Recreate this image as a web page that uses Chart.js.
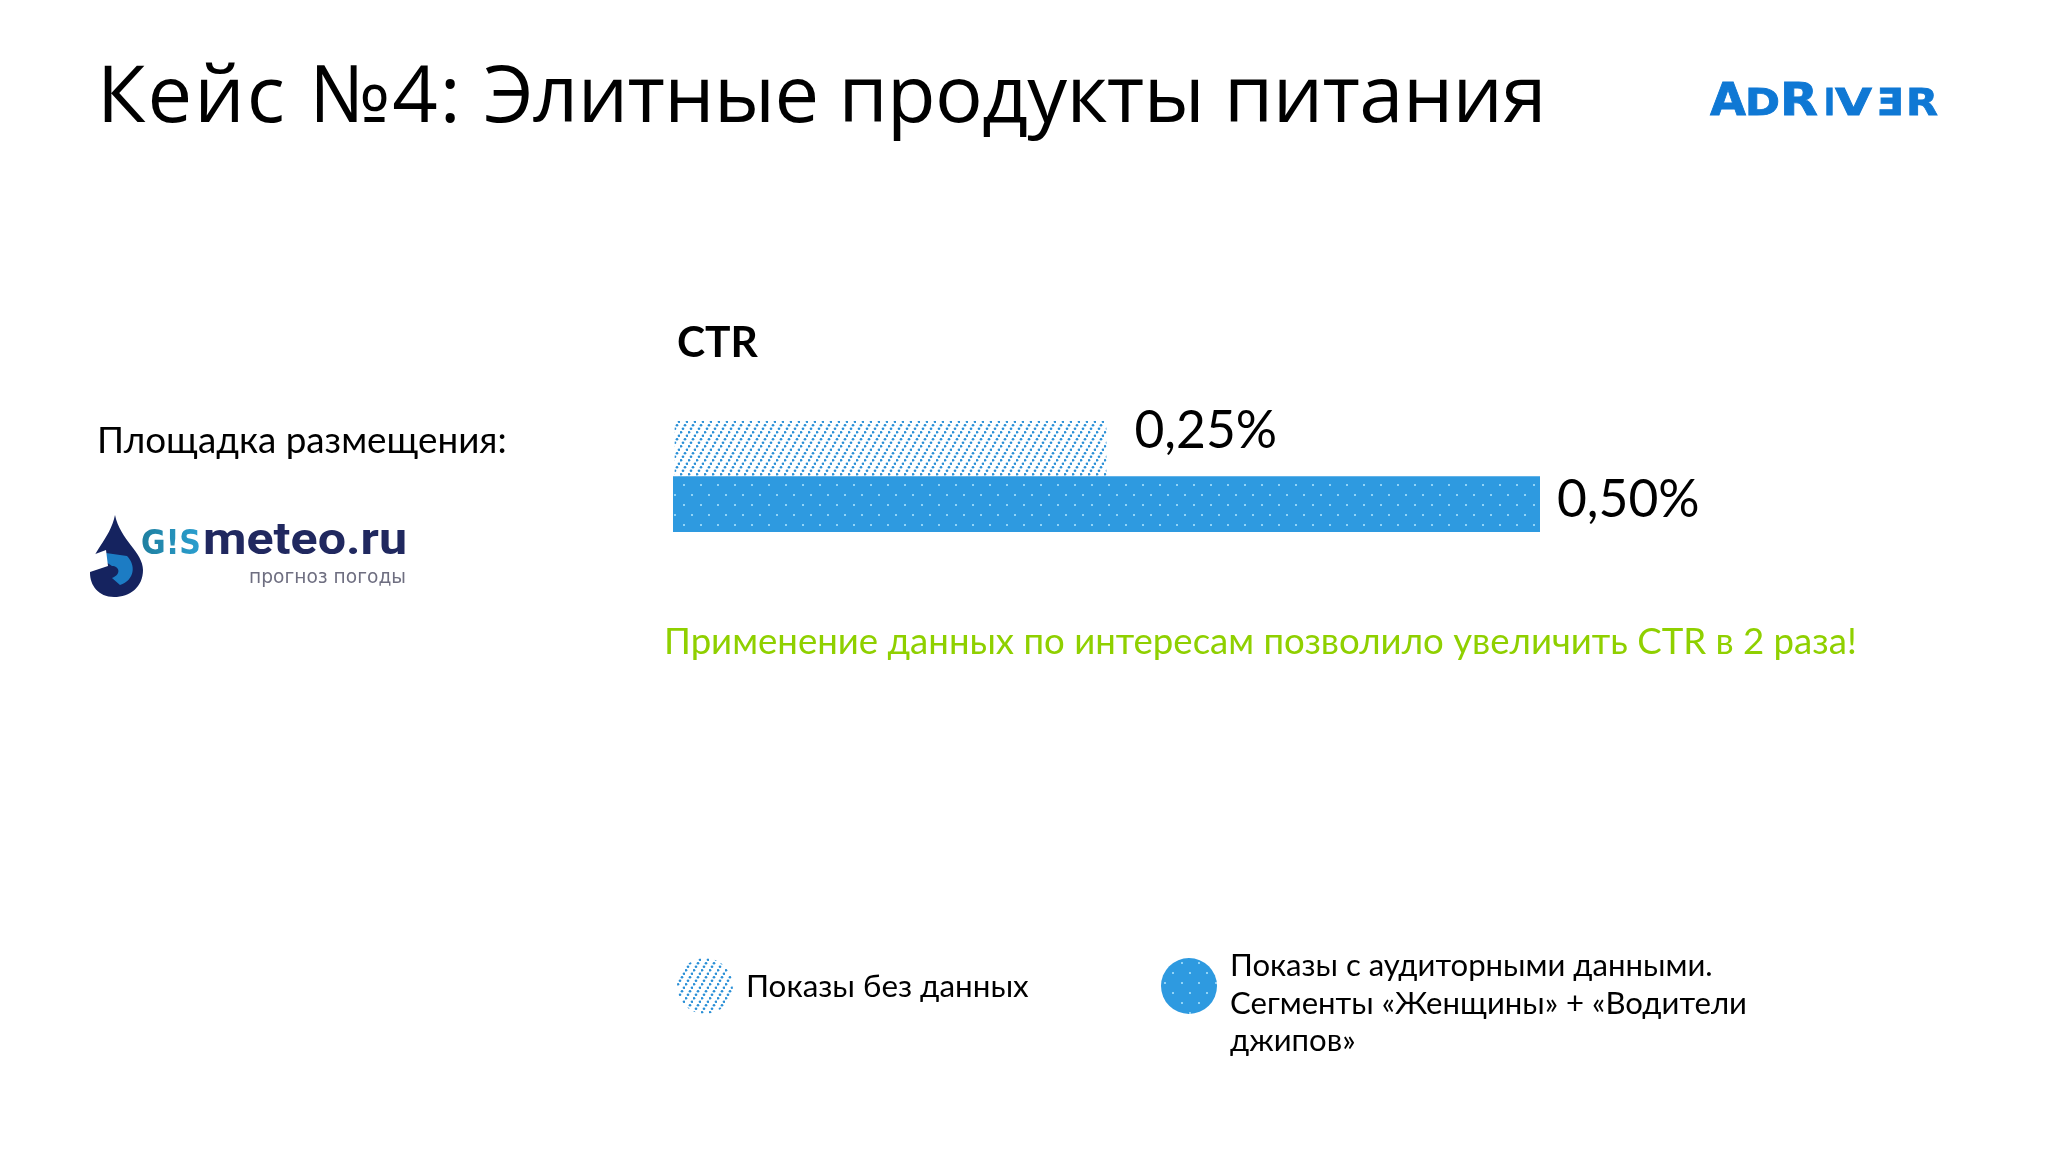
<!DOCTYPE html>
<html lang="ru"><head><meta charset="utf-8">
<title>Кейс №4</title>
<script src="https://cdn.jsdelivr.net/npm/chart.js@4"></script>
<style>
html,body{margin:0;padding:0;background:#fff;width:2048px;height:1152px;overflow:hidden}
#stage{position:relative;width:2048px;height:1152px}
canvas#c{position:absolute;left:0;top:0}
.t{position:absolute;white-space:nowrap;color:#000;font-family:"Lato","Noto Sans",sans-serif;line-height:1}
.sw{position:absolute;width:56px;height:56px;border-radius:50%}
</style></head><body><div id="stage">
<canvas id="c" width="2048" height="1152"></canvas>
<div class="t" id="title" style="left:97px;top:52px;font-family:'Open Sans';font-size:79.5px"><span style="letter-spacing:2px">Кейс №4:</span> <span style="letter-spacing:-0.65px">Элитные продукты питания</span></div>
<div class="t" style="left:677px;top:320px;font-size:42.5px;font-weight:700">CTR</div>
<div class="t" style="left:97px;top:421px;font-size:36.8px">Площадка размещения:</div>
<div class="t" style="left:664px;top:622px;font-size:36.6px;color:#8fd000">Применение данных по интересам позволило увеличить CTR в 2 раза!</div>
<div class="sw" id="sw0" style="left:677px;top:958px"></div>
<div class="t" style="left:746px;top:970px;font-size:31.4px">Показы без данных</div>
<div class="sw" id="sw1" style="left:1161px;top:958px"></div>
<div class="t" style="left:1230px;top:946px;font-size:31.1px;line-height:37.5px">Показы с аудиторными данными.<br>Сегменты «Женщины» + «Водители<br>джипов»</div>
<svg style="position:absolute;left:0;top:0" width="2048" height="1152" xmlns="http://www.w3.org/2000/svg">
<defs><linearGradient id="gs" x1="0" x2="1"><stop offset="0" stop-color="#1f7f9f"/><stop offset="1" stop-color="#2a9fd0"/></linearGradient></defs>
<path d="M115 515 C120 540 143 552 143 570 C143 587 130 597 114 597 C98 597 90 585 90 573 C90 552 110 540 115 515Z" fill="#15235f"/>
<path d="M106 553 L127 556 C136 565 135 580 120 585 L112 578 C122 574 119 566 112 566 L103 560Z" fill="#1c7cc4"/>
<path d="M90 556 L106 550 L108 566 L96 570 L90 572Z" fill="#fff"/>
<text x="141" y="554" font-family="DejaVu Sans" font-weight="700" font-size="34" fill="url(#gs)" textLength="60" lengthAdjust="spacingAndGlyphs">G!S</text>
<text x="203" y="554" font-family="Roboto" font-weight="700" font-size="44" fill="#20285f" textLength="204" lengthAdjust="spacingAndGlyphs">meteo.ru</text>
<text x="249" y="583" font-family="DejaVu Sans" font-size="20" fill="#6e6e80" textLength="157" lengthAdjust="spacingAndGlyphs">прогноз погоды</text>
<g font-family="DejaVu Sans" font-weight="700" fill="#0f78d4" stroke="#0f78d4" stroke-width="0.8">
<text x="1710" y="115" font-size="44" textLength="36" lengthAdjust="spacingAndGlyphs">A</text>
<text x="1745" y="115" font-size="37" textLength="35" lengthAdjust="spacingAndGlyphs">D</text>
<text x="1780" y="115" font-size="44" textLength="38" lengthAdjust="spacingAndGlyphs">R</text>
<text x="1824" y="115" font-size="37" textLength="11" lengthAdjust="spacingAndGlyphs">I</text>
<text x="1835" y="115" font-size="37" textLength="37" lengthAdjust="spacingAndGlyphs">V</text>
<text transform="translate(1904,115) scale(-1,1)" font-size="37" textLength="27" lengthAdjust="spacingAndGlyphs">E</text>
<text x="1906" y="115" font-size="37" textLength="32" lengthAdjust="spacingAndGlyphs">R</text>
</g>
</svg>
</div>
<script>
const categories = ["Показы без данных", "Показы с аудиторными данными. Сегменты «Женщины» + «Водители джипов»"];
const ctrValues = [0.25, 0.5];
const valueLabels = ["0,25%", "0,50%"];
const axisMax = 0.5;

function hatchTile(){
  const c=document.createElement('canvas');c.width=8;c.height=14;const g=c.getContext('2d');
  g.clearRect(0,0,8,14);g.fillStyle='#2a8fd6';
  for(let i=0;i<4;i++){const x=1+i*2,y=12.25-i*3.5;g.beginPath();g.ellipse(x,y,1.35,1.35,0,0,7);g.fill();}
  return c;
}
function dotTile(){
  const c=document.createElement('canvas');c.width=17;c.height=20;const g=c.getContext('2d');
  g.fillStyle='#2e9ae0';g.fillRect(0,0,17,20);g.fillStyle='#8fd3f7';
  g.fillRect(3,4,2,2);g.fillRect(11,14,2,2);
  return c;
}
const hT=hatchTile(),dT=dotTile();
const ctx=document.getElementById('c').getContext('2d');
const fills=[ctx.createPattern(hT,'repeat'),ctx.createPattern(dT,'repeat')];
document.getElementById('sw0').style.background='url('+hT.toDataURL()+')';
document.getElementById('sw1').style.background='url('+dT.toDataURL()+')';

const labelOffsets=[{dx:28,dy:-17},{dx:17,dy:-4}];
const valueLabelPlugin={id:'valueLabels',afterDatasetsDraw(chart){
  const g=chart.ctx,els=chart.getDatasetMeta(0).data;
  g.save();g.fillStyle='#000';g.font='51.5px Lato, "Noto Sans", sans-serif';g.textBaseline='middle';g.textAlign='left';
  els.forEach((el,i)=>g.fillText(valueLabels[i],el.x+labelOffsets[i].dx,el.y+labelOffsets[i].dy));
  g.restore();
}};
new Chart(ctx,{type:'bar',plugins:[valueLabelPlugin],data:{labels:categories,datasets:[{
  data:ctrValues,backgroundColor:fills,borderColor:'#fff',borderSkipped:false,
  borderWidth:[{left:2,right:0,top:0,bottom:0},0],
  barPercentage:1,categoryPercentage:1}]},
 options:{indexAxis:'y',responsive:false,animation:false,devicePixelRatio:1,
  layout:{padding:{left:673,right:508,top:421,bottom:620}},
  plugins:{legend:{display:false},tooltip:{enabled:false},title:{display:false}},
  scales:{x:{display:false,min:0,max:axisMax},y:{display:false}}}});
</script></body></html>
